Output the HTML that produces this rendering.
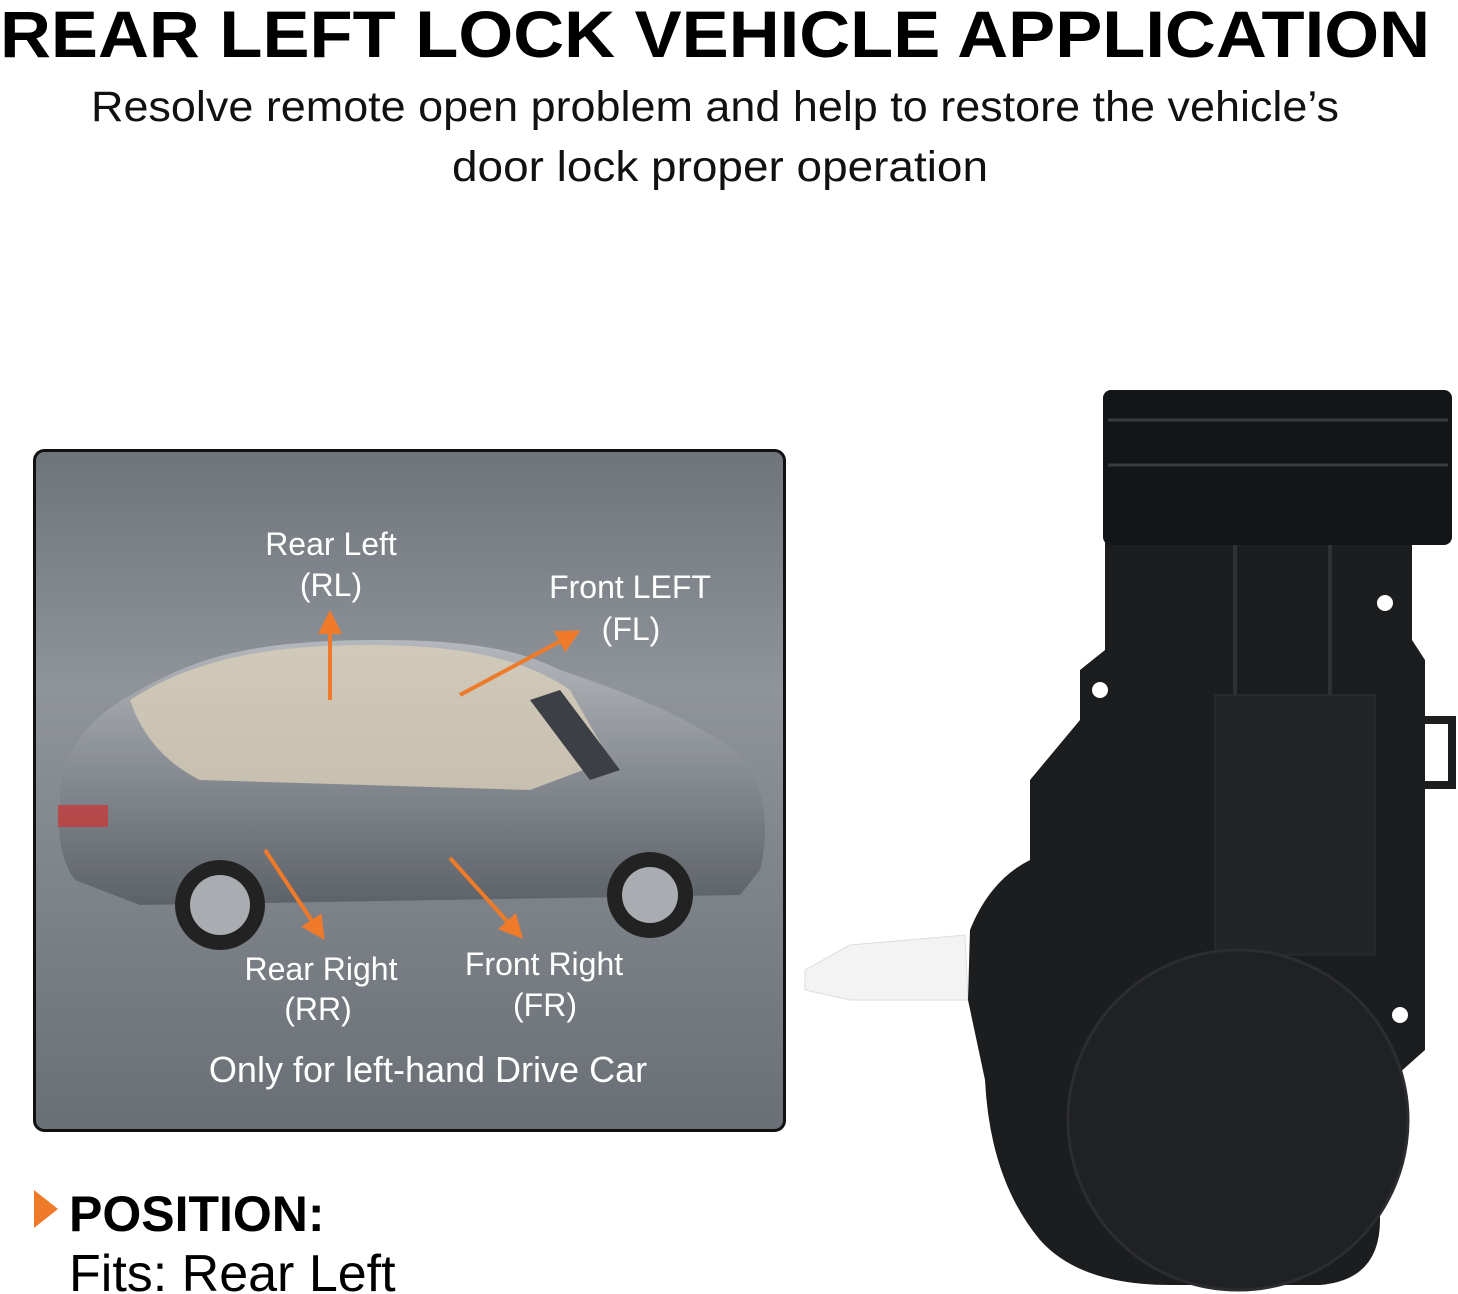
<!DOCTYPE html>
<html><head><meta charset="utf-8"><style>
html,body{margin:0;padding:0;background:#fff;}
svg{display:block;}
text{font-family:"Liberation Sans",sans-serif;}
</style></head><body>
<svg width="1458" height="1294" viewBox="0 0 1458 1294" xmlns="http://www.w3.org/2000/svg">
<defs>
<linearGradient id="pg" x1="0" y1="0" x2="0" y2="1">
<stop offset="0" stop-color="#6f747b"/><stop offset="0.35" stop-color="#8f949a"/><stop offset="1" stop-color="#6a6f76"/>
</linearGradient>
<linearGradient id="cg" x1="0" y1="0" x2="0" y2="1">
<stop offset="0" stop-color="#b4b8bd"/><stop offset="0.5" stop-color="#878c92"/><stop offset="1" stop-color="#5d6268"/>
</linearGradient>
<marker id="ah" markerWidth="6" markerHeight="6" refX="3" refY="3" orient="auto"><path d="M0,0 L6,3 L0,6 Z" fill="#ef7b2a"/></marker>
</defs>
<text x="0" y="57" font-size="66" font-weight="bold" fill="#000" textLength="1430" lengthAdjust="spacingAndGlyphs">REAR LEFT LOCK VEHICLE APPLICATION</text>
<text x="715" y="121" font-size="43" fill="#111" text-anchor="middle" textLength="1248" lengthAdjust="spacingAndGlyphs">Resolve remote open problem and help to restore the vehicle’s</text>
<text x="720" y="181" font-size="43" fill="#111" text-anchor="middle" textLength="536" lengthAdjust="spacingAndGlyphs">door lock proper operation</text>

<rect x="34.5" y="450.5" width="750" height="680" rx="10" fill="url(#pg)" stroke="#111" stroke-width="3"/>
<!-- car -->
<path d="M60,800 C60,760 80,720 140,690 C200,655 260,640 380,640 C470,640 520,650 560,670 C620,690 700,720 745,760 C765,790 770,830 760,870 L740,895 L140,905 L75,880 C60,860 57,830 60,800 Z" fill="url(#cg)"/>
<path d="M130,700 C200,655 280,645 370,645 C450,645 520,655 570,690 L610,760 L530,790 L200,780 C160,760 140,730 130,700 Z" fill="#d8cdb8" opacity="0.8"/>
<path d="M560,690 L620,770 L590,780 L530,700 Z" fill="#3c4046"/>
<circle cx="220" cy="905" r="45" fill="#222"/><circle cx="220" cy="905" r="30" fill="#a9acb0"/>
<circle cx="650" cy="895" r="43" fill="#222"/><circle cx="650" cy="895" r="28" fill="#a9acb0"/>
<rect x="58" y="805" width="50" height="22" fill="#c43c3c" opacity="0.8"/>
<g stroke="#ef7b2a" stroke-width="4" fill="none" marker-end="url(#ah)">
<line x1="330" y1="700" x2="330" y2="622"/>
<line x1="460" y1="695" x2="570" y2="636"/>
<line x1="265" y1="850" x2="318" y2="930"/>
<line x1="450" y1="858" x2="515" y2="930"/>
</g>
<g fill="#fff" font-size="32" text-anchor="middle">
<text x="331" y="555">Rear Left</text><text x="331" y="596">(RL)</text>
<text x="630" y="598">Front LEFT</text><text x="631" y="640">(FL)</text>
<text x="321" y="980">Rear Right</text><text x="318" y="1020">(RR)</text>
<text x="544" y="975">Front Right</text><text x="545" y="1016">(FR)</text>
<text x="428" y="1082" font-size="36">Only for left-hand Drive Car</text>
</g>
<path d="M34,1190 L58,1209 L34,1228 Z" fill="#ef7b2a"/>
<text x="69" y="1231" font-size="50" font-weight="bold" fill="#000">POSITION:</text>
<text x="69" y="1291" font-size="52" fill="#000">Fits: Rear Left</text>

<!-- lock actuator -->
<path d="M805,970 L850,945 L965,935 L968,1000 L850,1000 L805,990 Z" fill="#f3f3f3" stroke="#ddd"/>
<path d="M1103,400 Q1103,390 1113,390 L1442,390 Q1452,390 1452,400 L1452,535 L1412,545 L1412,640 L1425,660 L1425,1050 L1380,1090 L1380,1220 Q1380,1280 1320,1285 L1170,1285 Q1080,1285 1040,1240 Q990,1180 985,1080 L968,1000 L970,930 Q990,880 1030,860 L1030,780 L1080,720 L1080,670 L1105,650 L1105,545 Z" fill="#1c1d1f"/>
<rect x="1103" y="390" width="349" height="155" rx="8" fill="#141517"/>
<line x1="1108" y1="420" x2="1448" y2="420" stroke="#3a3b3e" stroke-width="3"/>
<line x1="1108" y1="465" x2="1448" y2="465" stroke="#3a3b3e" stroke-width="3"/>
<rect x="1215" y="695" width="160" height="260" fill="#232427" stroke="#2e2f32"/>
<circle cx="1238" cy="1120" r="170" fill="#202124" stroke="#2c2d30" stroke-width="3"/>
<line x1="1235" y1="545" x2="1235" y2="695" stroke="#2f3033" stroke-width="4"/>
<line x1="1330" y1="545" x2="1330" y2="695" stroke="#2f3033" stroke-width="4"/>
<circle cx="1100" cy="690" r="8" fill="#fff"/><circle cx="1385" cy="603" r="8" fill="#fff"/><circle cx="1400" cy="1015" r="8" fill="#fff"/>
<path d="M1425,720 L1452,720 L1452,785 L1425,785" fill="none" stroke="#1c1d1f" stroke-width="8"/>
</svg>
</body></html>
